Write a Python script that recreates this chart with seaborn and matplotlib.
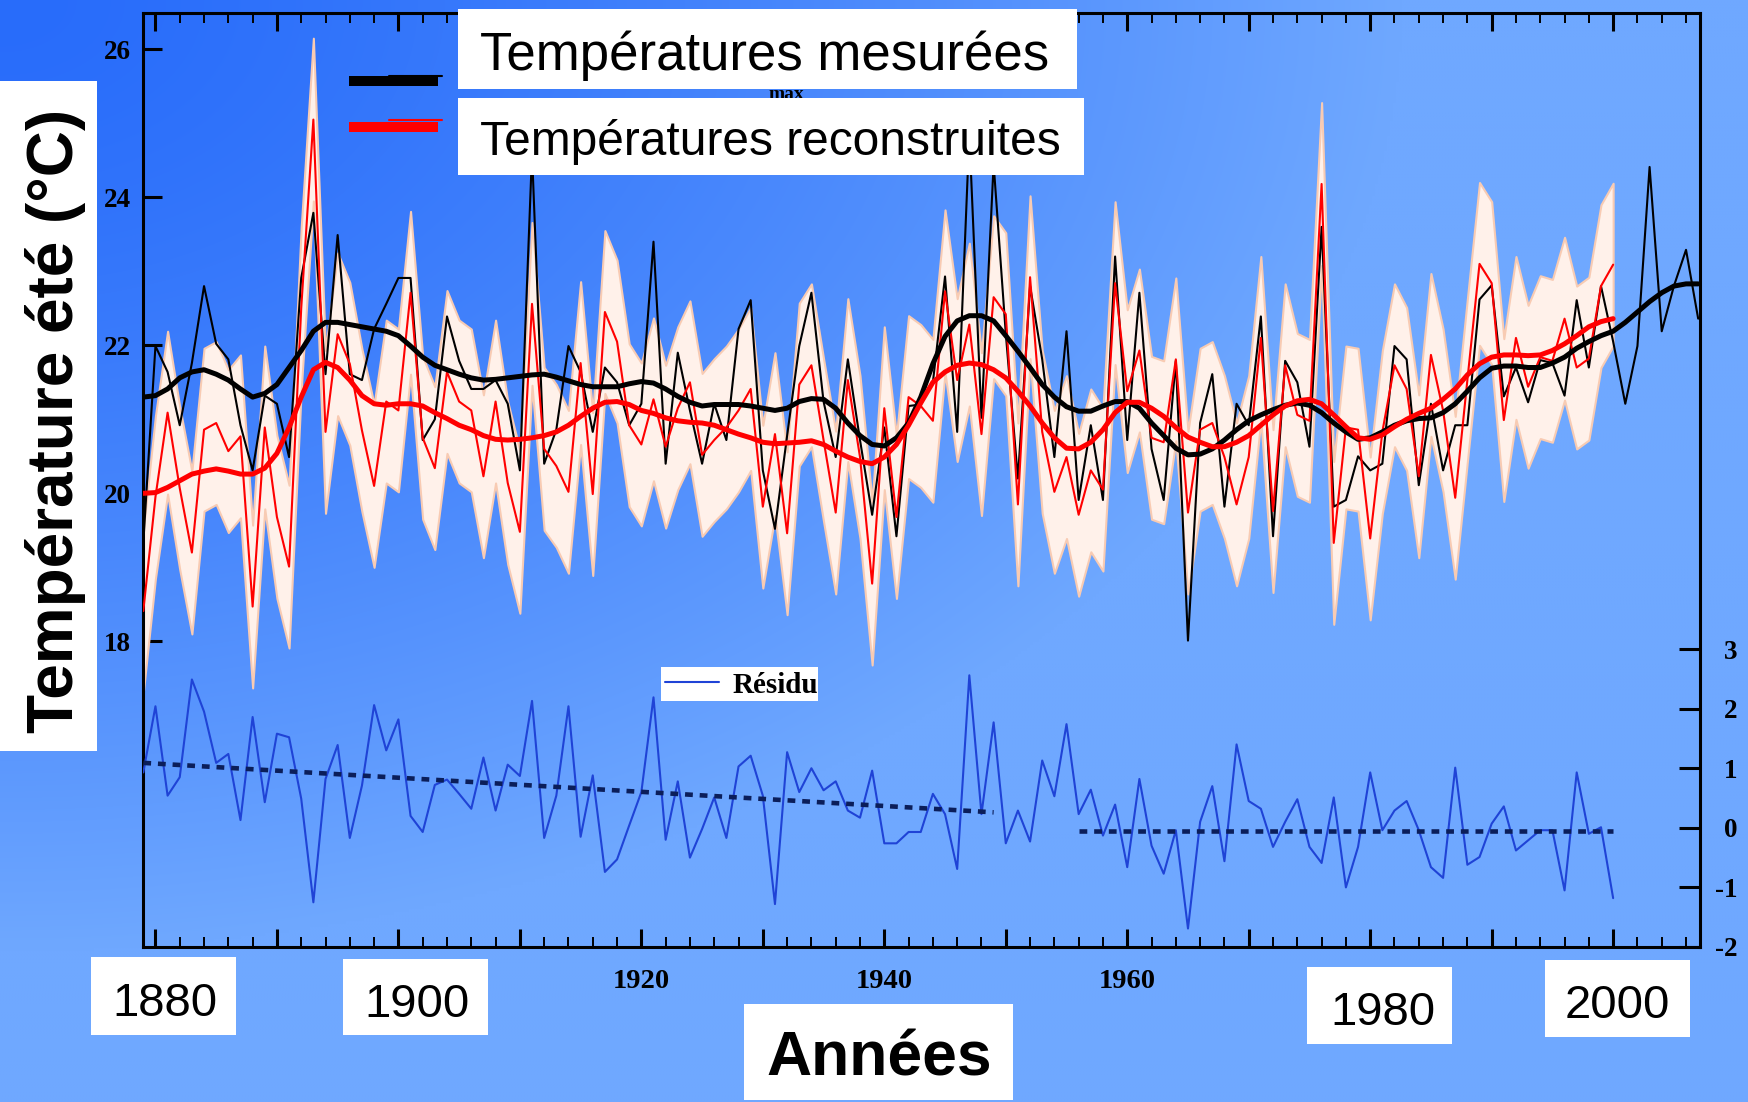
import numpy as np
import matplotlib
matplotlib.use("Agg")
import matplotlib.pyplot as plt
import seaborn as sns
from matplotlib.patches import Rectangle
from matplotlib.lines import Line2D
from matplotlib.ticker import MultipleLocator

# --- données ---
annees = np.arange(1879, 2008)       # températures mesurées
annees_rec = np.arange(1879, 2001)   # reconstruction + résidu

t_mesuree = [
    19.33, 21.99, 21.64, 20.92, 21.76, 22.80, 22.02, 21.81, 20.92, 20.31,
    21.32, 21.21, 20.49, 22.91, 23.79, 21.61, 23.49, 21.61, 21.53, 22.22,
    22.56, 22.91, 22.91, 20.72, 21.00, 22.39, 21.79, 21.41, 21.41, 21.53,
    21.21, 20.31, 24.60, 20.40, 20.86, 21.99, 21.64, 20.83, 21.70, 21.50,
    20.92, 21.21, 23.40, 20.40, 21.90, 21.12, 20.40, 21.21, 20.72, 22.22,
    22.61, 20.31, 19.52, 20.78, 21.99, 22.71, 21.24, 20.49, 21.81, 20.72,
    19.71, 20.89, 19.42, 21.18, 21.20, 21.50, 22.93, 20.83, 24.85, 21.02,
    24.45, 22.16, 20.20, 22.80, 21.81, 20.49, 22.19, 19.91, 20.92, 19.91,
    23.20, 20.72, 22.71, 20.60, 19.91, 21.79, 18.01, 20.95, 21.61, 19.82,
    21.21, 20.92, 22.39, 19.42, 21.79, 21.50, 20.63, 23.60, 19.82, 19.91,
    20.50, 20.31, 20.40, 21.99, 21.81, 20.11, 21.21, 20.31, 20.92, 20.92,
    22.62, 22.81, 21.31, 21.70, 21.23, 21.80, 21.76, 21.32, 22.61, 21.70,
    22.80, 22.05, 21.21, 21.99, 24.41, 22.19, 22.80, 23.29, 22.36,
]

t_reconstruite = [
    18.41, 19.95, 21.09, 20.07, 19.20, 20.86, 20.95, 20.57, 20.77, 18.47,
    20.89, 19.68, 19.01, 22.50, 25.05, 20.83, 22.15, 21.75, 20.85, 20.10,
    21.24, 21.12, 22.71, 20.75, 20.34, 21.64, 21.24, 21.12, 20.23, 21.24,
    20.14, 19.48, 22.56, 20.60, 20.37, 20.02, 21.76, 19.99, 22.45, 22.05,
    20.92, 20.66, 21.27, 20.63, 21.15, 21.50, 20.52, 20.72, 20.89, 21.12,
    21.41, 19.82, 20.80, 19.46, 21.47, 21.73, 20.72, 19.74, 21.53, 20.49,
    18.78, 21.15, 19.68, 21.30, 21.18, 20.98, 22.73, 21.53, 22.28, 20.80,
    22.65, 22.42, 19.85, 22.92, 20.83, 20.02, 20.49, 19.71, 20.31, 20.05,
    22.84, 21.38, 21.93, 20.75, 20.69, 21.81, 19.74, 20.86, 20.95, 20.49,
    19.85, 20.49, 22.10, 19.76, 21.73, 21.06, 20.98, 24.18, 19.33, 20.89,
    20.86, 19.39, 20.83, 21.73, 21.41, 20.23, 21.87, 21.12, 19.94, 21.53,
    23.10, 22.84, 20.99, 22.10, 21.44, 21.84, 21.79, 22.36, 21.70, 21.82,
    22.80, 23.09,
]

t_mesuree_lisse = [
    21.30, 21.32, 21.41, 21.56, 21.64, 21.67, 21.61, 21.53, 21.41, 21.30,
    21.35, 21.47, 21.70, 21.93, 22.19, 22.31, 22.31, 22.28, 22.25, 22.22,
    22.19, 22.13, 21.99, 21.84, 21.73, 21.67, 21.61, 21.56, 21.53, 21.54,
    21.56, 21.58, 21.60, 21.61, 21.57, 21.52, 21.47, 21.44, 21.44, 21.44,
    21.48, 21.51, 21.49, 21.41, 21.31, 21.23, 21.18, 21.20, 21.20, 21.20,
    21.18, 21.15, 21.12, 21.15, 21.24, 21.28, 21.27, 21.15, 20.95, 20.78,
    20.66, 20.64, 20.75, 20.95, 21.30, 21.75, 22.12, 22.33, 22.40, 22.40,
    22.33, 22.13, 21.92, 21.70, 21.47, 21.30, 21.17, 21.11, 21.11, 21.18,
    21.24, 21.24, 21.15, 20.95, 20.78, 20.61, 20.52, 20.53, 20.60, 20.72,
    20.86, 20.98, 21.06, 21.13, 21.19, 21.22, 21.19, 21.09, 20.95, 20.83,
    20.73, 20.75, 20.83, 20.92, 20.98, 21.01, 21.02, 21.09, 21.21, 21.38,
    21.56, 21.69, 21.72, 21.72, 21.70, 21.70, 21.76, 21.84, 21.96, 22.05,
    22.13, 22.19, 22.31, 22.45, 22.59, 22.71, 22.80, 22.83, 22.83,
]

t_reconstruite_lisse = [
    20.00, 20.01, 20.08, 20.17, 20.26, 20.30, 20.33, 20.30, 20.26, 20.26,
    20.34, 20.54, 20.89, 21.30, 21.67, 21.77, 21.70, 21.53, 21.32, 21.21,
    21.19, 21.21, 21.21, 21.18, 21.09, 21.01, 20.92, 20.86, 20.78, 20.73,
    20.72, 20.73, 20.75, 20.78, 20.83, 20.92, 21.04, 21.15, 21.23, 21.24,
    21.20, 21.12, 21.08, 21.02, 20.98, 20.96, 20.95, 20.92, 20.86, 20.80,
    20.75, 20.69, 20.67, 20.68, 20.69, 20.71, 20.66, 20.57, 20.49, 20.43,
    20.40, 20.49, 20.66, 20.92, 21.22, 21.50, 21.64, 21.73, 21.76, 21.74,
    21.67, 21.56, 21.38, 21.18, 20.95, 20.75, 20.61, 20.60, 20.69, 20.86,
    21.09, 21.23, 21.23, 21.15, 21.04, 20.89, 20.76, 20.69, 20.63, 20.63,
    20.69, 20.78, 20.92, 21.06, 21.18, 21.25, 21.27, 21.21, 21.06, 20.90,
    20.75, 20.73, 20.79, 20.90, 21.00, 21.08, 21.15, 21.27, 21.41, 21.60,
    21.75, 21.84, 21.87, 21.87, 21.86, 21.87, 21.93, 22.02, 22.13, 22.25,
    22.32, 22.36,
]

# demi-largeur de la bande d'incertitude autour de la reconstruction (°C)
demi_intervalle = 1.1

residu = [
    0.93, 2.04, 0.54, 0.85, 2.49, 1.95, 1.09, 1.24, 0.13, 1.86,
    0.43, 1.58, 1.52, 0.49, -1.25, 0.82, 1.39, -0.17, 0.71, 2.06,
    1.30, 1.82, 0.20, -0.07, 0.72, 0.81, 0.57, 0.32, 1.18, 0.29,
    1.06, 0.87, 2.13, -0.17, 0.54, 2.04, -0.15, 0.88, -0.74, -0.53,
    0.04, 0.60, 2.19, -0.20, 0.78, -0.50, -0.02, 0.51, -0.17, 1.03,
    1.21, 0.54, -1.28, 1.27, 0.60, 1.00, 0.63, 0.78, 0.29, 0.17,
    0.96, -0.26, -0.26, -0.07, -0.07, 0.57, 0.23, -0.69, 2.56, 0.23,
    1.77, -0.26, 0.29, -0.23, 1.13, 0.53, 1.74, 0.23, 0.64, -0.13,
    0.39, -0.66, 0.82, -0.30, -0.77, -0.04, -1.69, 0.10, 0.70, -0.56,
    1.40, 0.45, 0.32, -0.32, 0.10, 0.48, -0.32, -0.59, 0.51, -1.00,
    -0.32, 0.93, -0.04, 0.29, 0.45, -0.04, -0.66, -0.84, 1.01, -0.62,
    -0.49, 0.07, 0.36, -0.38, -0.21, -0.04, -0.04, -1.05, 0.93, -0.10,
    0.01, -1.18,
]

tendance_annees_1 = [1879, 1949]
tendance_residu_1 = [1.09, 0.26]
tendance_annees_2 = [1956, 2000]
tendance_residu_2 = [-0.05, -0.05]

graduations_temp = [18, 20, 22, 24, 26]
graduations_residu = [3, 2, 1, 0, -1, -2]
annees_encadrees = [1880, 1900, 1980, 2000]
annees_petites = [1920, 1940, 1960]

W, H = 1749, 1102


def fx(x):
    return x / W


def fy(y):
    return 1 - y / H


def boite(parent, fig, x0, y0, x1, y1, z=5):
    r = Rectangle((fx(x0), fy(y1)), (x1 - x0) / W, (y1 - y0) / H,
                  transform=fig.transFigure, facecolor="white",
                  edgecolor="none", zorder=z, clip_on=False)
    parent.add_artist(r)


sns.set_style("ticks")
plt.rcParams["font.family"] = ["Liberation Sans", "DejaVu Sans"]
plt.rcParams["axes.unicode_minus"] = False
plt.rcParams["text.color"] = "black"
SERIF = ["Liberation Serif", "DejaVu Serif"]

fig = plt.figure(figsize=(W / 100, H / 100), dpi=100)

# --- fond dégradé bleu ---
fond = fig.add_axes([0, 0, 1, 1], zorder=-10)
yy, xx = np.mgrid[0:H:3, 0:W:3]
t = np.clip(np.sqrt((xx / 1400) ** 2 + (yy / 950) ** 2), 0, 1) ** 1.4
bleu_fonce = np.array([40, 108, 250]) / 255
bleu_clair = np.array([111, 168, 255]) / 255
fond.imshow(bleu_fonce + (bleu_clair - bleu_fonce) * t[..., None],
            aspect="auto", interpolation="bilinear")
fond.axis("off")

# --- températures ---
ax = fig.add_axes([fx(143.3), fy(947), (1700 - 143.3) / W, (947 - 13.3) / H])
ax.set_facecolor("none")
rec = np.array(t_reconstruite)
ax.fill_between(annees_rec, rec - demi_intervalle, rec + demi_intervalle,
                facecolor="#fff1ea", edgecolor="#f8cbb3", linewidth=1.5, zorder=1)
sns.lineplot(x=annees, y=t_mesuree, color="black", linewidth=1.5, ax=ax, zorder=3)
sns.lineplot(x=annees_rec, y=t_reconstruite, color="#ff0000", linewidth=1.5, ax=ax, zorder=3)
sns.lineplot(x=annees, y=t_mesuree_lisse, color="black", linewidth=3.6, ax=ax, zorder=4)
sns.lineplot(x=annees_rec, y=t_reconstruite_lisse, color="#ff0000", linewidth=3.6, ax=ax, zorder=4)
ax.set_xlim(1879, 2007.15)
ax.set_ylim(13.87, 26.486)
ax.set_xlabel("")
ax.set_ylabel("")

ax.set_yticks(graduations_temp)
ax.set_yticklabels([str(v) for v in graduations_temp], family=SERIF,
                   fontweight="bold", fontsize=19.5)
ax.tick_params(axis="y", direction="in", length=14, width=2.2, pad=9,
               color="black", labelcolor="black", left=True, right=False)
ax.xaxis.set_major_locator(MultipleLocator(10))
ax.xaxis.set_minor_locator(MultipleLocator(2))
ax.tick_params(axis="x", which="major", direction="in", length=13, width=2.2,
               color="black", top=True, bottom=True, labelbottom=False)
ax.tick_params(axis="x", which="minor", direction="in", length=7, width=1.4,
               color="black", top=True, bottom=True)
for s in ax.spines.values():
    s.set_visible(True)
    s.set_color("black")
    s.set_linewidth(2.2)

# --- résidu (axe de droite) ---
ax2 = ax.twinx()
sns.lineplot(x=annees_rec, y=residu, color="#1f43d6", linewidth=1.5, ax=ax2)
for xs, ys in [(tendance_annees_1, tendance_residu_1),
               (tendance_annees_2, tendance_residu_2)]:
    sns.lineplot(x=xs, y=ys, color="#0b1e5a", linewidth=3.3, ax=ax2,
                 linestyle=(0, (1.7, 1.5)))
ax2.set_ylim(-2.0, 13.67)
ax2.set_ylabel("")
ax2.set_yticks(graduations_residu)
ax2.set_yticklabels([str(v) for v in graduations_residu], family=SERIF,
                    fontweight="bold", fontsize=19.5, ha="right")
ax2.tick_params(axis="y", direction="in", length=15, width=2.2, pad=27,
                color="black", labelcolor="black", right=True, left=False)
for s in ax2.spines.values():
    s.set_visible(False)

# --- étiquettes des années ---
trans = ax.get_xaxis_transform()
boites_annees = [(91, 957, 236, 1035), (343, 959, 488, 1035),
                 (1307, 967, 1452, 1044), (1545, 960, 1690, 1037)]
decalages = [(9.5, -69), (19, -70), (12.5, -78), (4.5, -71)]
for b in boites_annees:
    boite(ax2, fig, *b)
for an, (dx, dy) in zip(annees_encadrees, decalages):
    ax2.annotate(str(an), xy=(an, 0), xycoords=trans, xytext=(dx, dy),
                 textcoords="offset pixels", ha="center", va="baseline",
                 fontsize=34, color="black", annotation_clip=False, zorder=6)
for an in annees_petites:
    ax.annotate(str(an), xy=(an, 0), xycoords=trans, xytext=(0, -41),
                textcoords="offset pixels", ha="center", va="baseline",
                fontsize=20.5, family=SERIF, fontweight="bold", color="black",
                annotation_clip=False)

boite(fig, fig, 744, 1004, 1013, 1100)
fig.text(fx(879), fy(1075), "Années", fontsize=45, fontweight="bold",
         ha="center", va="baseline", zorder=6)

boite(fig, fig, 0, 81, 97, 751)
fig.text(fx(56), fy(421), "Température été (°C)", rotation=90, fontsize=46,
         fontweight="bold", ha="center", va="center", zorder=6)

# --- légendes ---
fig.text(fx(786), fy(99), "max", family=SERIF, fontweight="bold", fontsize=14,
         ha="center", va="baseline", zorder=4)
boite(fig, fig, 458, 9, 1077, 89)
boite(fig, fig, 458, 98, 1084, 175)
fig.text(fx(480), fy(70), "Températures mesurées", fontsize=38,
         ha="left", va="baseline", zorder=6)
fig.text(fx(480), fy(155), "Températures reconstruites", fontsize=34.5,
         ha="left", va="baseline", zorder=6)
for couleur, yb, yl in [("black", 81, 75.5), ("#ff0000", 127, 119.5)]:
    fig.add_artist(Line2D([fx(349), fx(438)], [fy(yb), fy(yb)], color=couleur,
                          linewidth=7.2, solid_capstyle="butt", zorder=4))
    fig.add_artist(Line2D([fx(389), fx(442)], [fy(yl), fy(yl)], color=couleur,
                          linewidth=1.5, zorder=4))

boite(fig, fig, 661, 667, 818, 701)
fig.add_artist(Line2D([fx(665), fx(719)], [fy(682), fy(682)], color="#1f43d6",
                      linewidth=1.5, zorder=6))
fig.text(fx(733), fy(693), "Résidu", family=SERIF, fontweight="bold",
         fontsize=21, ha="left", va="baseline", zorder=6)

fig.savefig("out.png", dpi=100)
